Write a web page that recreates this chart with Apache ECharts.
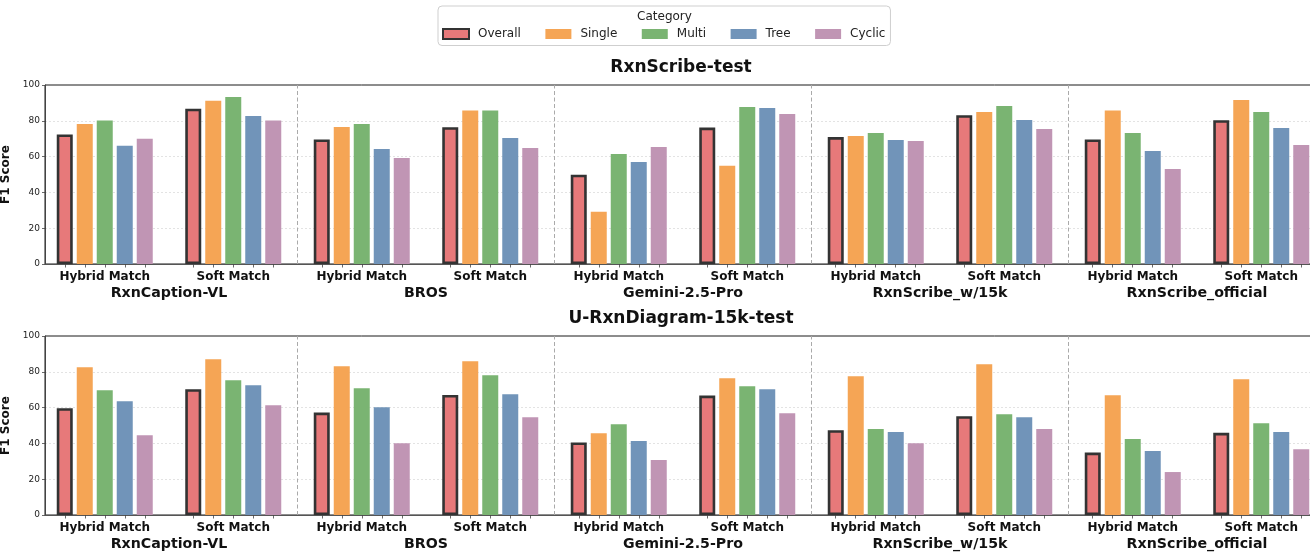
<!DOCTYPE html>
<html><head><meta charset="utf-8">
<script src="https://cdn.jsdelivr.net/npm/echarts@6/dist/echarts.min.js"></script>
<style>html,body{margin:0;padding:0;background:#fff}#chart{width:1310px;height:552px}</style>
</head><body><div id="chart"></div>
<script>
// ---------------- data ----------------
const models = ['RxnCaption-VL', 'BROS', 'Gemini-2.5-Pro', 'RxnScribe_w/15k', 'RxnScribe_official'];
const matchTypes = ['Hybrid Match', 'Soft Match'];
const categories = ['Overall', 'Single', 'Multi', 'Tree', 'Cyclic'];
const panelTitles = ['RxnScribe-test', 'U-RxnDiagram-15k-test'];
const yTicks = [0, 20, 40, 60, 80, 100];

// RxnScribe-test: order = model x (Hybrid, Soft)
const rxnOverall = [72.4, 86.8, 69.6, 76.4, 49.9, 76.2, 70.9, 83.1, 69.6, 80.3];
const rxnSingle  = [78.2, 91.2, 76.5, 85.7, 29.2, 54.9, 71.5, 84.9, 85.7, 91.6];
const rxnMulti   = [80.1, 93.3, 78.2, 85.7, 61.5, 87.7, 73.2, 88.3, 73.2, 84.9];
const rxnTree    = [66.1, 82.7, 64.2, 70.4, 57.0, 87.2, 69.3, 80.4, 63.1, 76.0];
const rxnCyclic  = [70.0, 80.1, 59.2, 64.8, 65.4, 83.8, 68.7, 75.4, 53.1, 66.5];

// U-RxnDiagram-15k-test
const uOverall = [59.7, 70.3, 57.2, 67.1, 40.5, 66.7, 47.4, 55.2, 34.9, 45.9];
const uSingle  = [82.5, 87.0, 83.1, 85.9, 45.7, 76.4, 77.5, 84.2, 66.9, 75.8];
const uMulti   = [69.7, 75.3, 70.8, 78.1, 50.7, 71.9, 48.0, 56.3, 42.4, 51.3];
const uTree    = [63.6, 72.5, 60.2, 67.5, 41.3, 70.3, 46.3, 54.6, 35.7, 46.3];
const uCyclic  = [44.6, 61.3, 40.1, 54.6, 30.7, 56.9, 40.1, 48.0, 24.0, 36.8];

const panels = [
  [rxnOverall, rxnSingle, rxnMulti, rxnTree, rxnCyclic],
  [uOverall, uSingle, uMulti, uTree, uCyclic]
];

// ---------------- style ----------------
const FONT = '"DejaVu Sans", "Liberation Sans", sans-serif';
const colors = ['#e7797a', '#f5a555', '#7ab472', '#7194b9', '#c095b4'];
const BAR_W = 16, BAR_GAP = 4, UNIT_PX = 128.5;
const X_MIN = -0.465, X_MAX = 9.465;
const gridsPos = [{ top: 85, height: 179 }, { top: 336, height: 179 }];

const nPos = models.length * matchTypes.length;
const posIdx = Array.from({ length: nPos }, (_, i) => i);
const sepVals = models.slice(1).map((_, m) => (m + 1) * matchTypes.length - 0.5);
const groupCenters = models.map((_, m) => m * matchTypes.length + (matchTypes.length - 1) / 2);
const tickVals = [];
posIdx.forEach(i => categories.forEach((_, k) => {
  tickVals.push(i + (k - (categories.length - 1) / 2) * (BAR_W + BAR_GAP) / UNIT_PX);
}));

const grid = [], xAxis = [], yAxis = [], series = [];
panels.forEach((vals, g) => {
  grid.push({ left: 45, width: 1276, top: gridsPos[g].top, height: gridsPos[g].height,
    outerBoundsMode: 'none', containLabel: false,
    show: true, borderColor: '#1a1a1a', borderWidth: 1, backgroundColor: 'transparent' });
  xAxis.push({
    type: 'value', gridIndex: g, min: X_MIN, max: X_MAX, position: 'bottom',
    splitLine: { show: false },
    axisLine: { show: true, onZero: false, lineStyle: { color: '#555', width: 1.2 } },
    axisTick: { show: true, customValues: tickVals, length: 3.5, lineStyle: { color: '#444', width: 0.8 } },
    axisLabel: { show: true, customValues: posIdx, margin: 7,
      formatter: v => matchTypes[Math.round(v) % matchTypes.length],
      fontFamily: FONT, fontSize: 12, fontWeight: 'bold', color: '#111' }
  });
  xAxis.push({
    type: 'value', gridIndex: g, min: X_MIN, max: X_MAX, position: 'bottom',
    splitLine: { show: false }, axisLine: { show: false, onZero: false }, axisTick: { show: false },
    axisLabel: { show: true, customValues: groupCenters, margin: 22,
      formatter: v => models[Math.round((v - 0.5) / matchTypes.length)],
      fontFamily: FONT, fontSize: 14.2, fontWeight: 'bold', color: '#111' }
  });
  yAxis.push({
    type: 'value', gridIndex: g, min: yTicks[0], max: yTicks[yTicks.length - 1], interval: 20,
    position: 'left',
    name: 'F1 Score', nameLocation: 'middle', nameGap: 31, nameRotate: 90,
    nameTextStyle: { fontFamily: FONT, fontSize: 12, fontWeight: 'bold', color: '#111' },
    axisLine: { show: true, onZero: false, lineStyle: { color: '#444', width: 1 } },
    axisTick: { show: true, length: 3, lineStyle: { color: '#444', width: 0.8 } },
    axisLabel: { fontFamily: FONT, fontSize: 9, color: '#222', margin: 5 },
    splitLine: { show: true, showMinLine: false, showMaxLine: false,
      lineStyle: { color: '#dcdcdc', width: 0.8, type: [2, 2] } }
  });
  categories.forEach((cat, k) => {
    const s = {
      name: cat, type: 'bar', xAxisIndex: 2 * g, yAxisIndex: g,
      barWidth: BAR_W, barGap: (BAR_GAP / BAR_W * 100) + '%',
      data: posIdx.map(i => [i, vals[k][i]]),
      itemStyle: { color: colors[k] },
      emphasis: { disabled: true },
      z: 3
    };
    if (k === 0) {
      s.itemStyle.borderColor = '#333';
      s.itemStyle.borderWidth = 2.6;
      s.z = 4;
    }
    series.push(s);
  });
  // group separators (dashed vertical lines)
  series.push({
    name: 'separators', type: 'line', xAxisIndex: 2 * g + 1, yAxisIndex: g,
    data: [], symbol: 'none', silent: true, z: 1,
    markLine: {
      silent: true, symbol: 'none', label: { show: false }, animation: false,
      lineStyle: { color: '#aaa', width: 1, type: [4, 2.5] },
      data: sepVals.map(v => ({ xAxis: v }))
    }
  });
});

const chart = echarts.init(document.getElementById('chart'), null, { renderer: 'canvas' });
chart.setOption({
  animation: false,
  backgroundColor: '#fff',
  textStyle: { fontFamily: FONT },
  grid, xAxis, yAxis, series,
  legend: {
    data: categories, left: 438, top: 6, orient: 'horizontal',
    padding: [22, 5, 5.5, 4], itemGap: 24.5, itemWidth: 26, itemHeight: 10, icon: 'rect',
    borderColor: '#cfcfcf', borderWidth: 1, borderRadius: 4, backgroundColor: '#fff',
    textStyle: { fontFamily: FONT, fontSize: 12, color: '#222', padding: [0, 0, 0, 4] }
  },
  graphic: [
    { type: 'text', x: 664.5, y: 17, z: 20,
      style: { text: 'Category', font: '12px ' + FONT, fill: '#222', align: 'center', verticalAlign: 'middle' } },
    { type: 'text', x: 681, y: 67.5, z: 20,
      style: { text: panelTitles[0], font: 'bold 17px ' + FONT, fill: '#111', align: 'center', verticalAlign: 'middle' } },
    { type: 'text', x: 681, y: 318.3, z: 20,
      style: { text: panelTitles[1], font: 'bold 17px ' + FONT, fill: '#111', align: 'center', verticalAlign: 'middle' } }
  ]
});
</script></body></html>
